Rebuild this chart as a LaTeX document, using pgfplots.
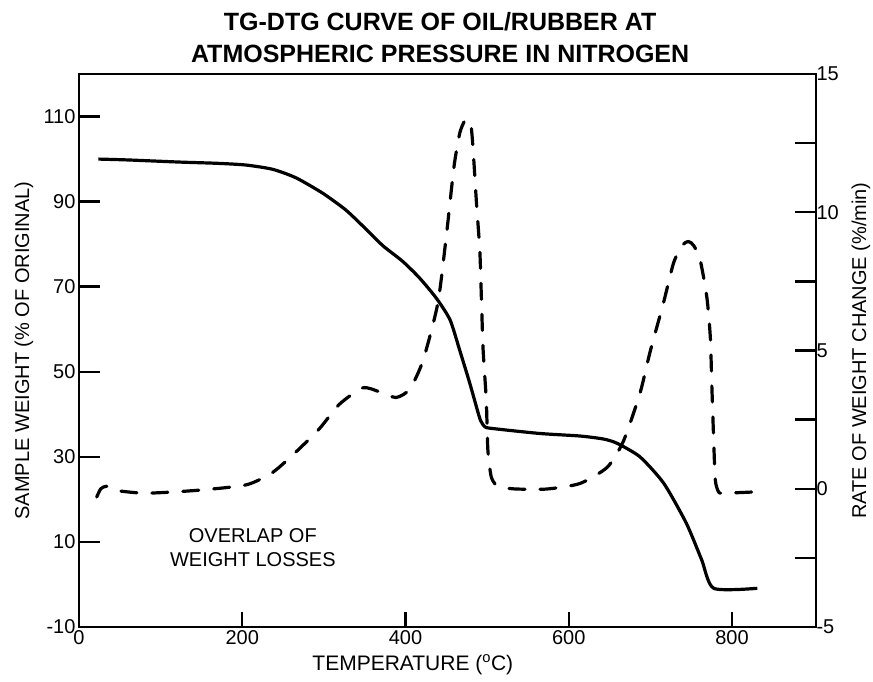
\documentclass[border=0pt]{standalone}
\usepackage{pgfplots}
\pgfplotsset{compat=1.18}
\usepackage{fontspec}
\setmainfont{Liberation Sans}
\begin{document}
\begin{tikzpicture}
\pgfplotsset{
  every axis/.append style={
    scale only axis, width=737pt, height=553pt,
    xmin=0, xmax=903,
    /pgf/number format/assume math mode=true,
    ticklabel style={font=\fontsize{20}{24}\selectfont},
    axis line style={line width=2.4pt},
    tick style={line width=2.4pt, black},
    tick align=inside,
    clip=false,
  }
}
% main axis: box, left ticks, TG curve
\begin{axis}[
  ymin=-10, ymax=120,
  ytick={-10,10,30,50,70,90,110},
  xtick=\empty,
  ytick pos=left,
  major tick length=21pt,
]
\addplot[black, line width=3.2pt, smooth, tension=0.4, line join=round] coordinates {
(23.7,100.0) (59.3,99.8) (122.5,99.3) (170,99.0) (204.6,98.6) (237.2,97.6)
(265.8,95.6) (298.4,92.0) (327.1,88.0) (351.8,83.5) (372.5,79.6) (396.3,76.0)
(417,72.1) (437.8,67.3) (454.6,62.2) (466.4,55.1) (478.8,47.3) (488.2,40.9)
(492.1,38.5) (497.1,37.1) (505,36.7) (564.3,35.5) (613.7,34.9) (642.3,34.2)
(659.1,33.2) (687.3,30.0) (716.4,23.8) (744.1,14.4) (762.9,5.8) (777.7,-0.9)
(831.1,-0.9)
};
\coordinate (LL) at (rel axis cs:0,0);
\coordinate (UR) at (rel axis cs:1,1);
\node[anchor=south, align=center, inner sep=0pt,
      font=\fontsize{25}{32}\bfseries\selectfont]
  at ([yshift=11pt]rel axis cs:0.49,1)
  {TG-DTG CURVE OF OIL/RUBBER AT\\ATMOSPHERIC PRESSURE IN NITROGEN};
\node[anchor=base, inner sep=0pt, font=\fontsize{21}{25}\selectfont]
  at ([yshift=-43pt]axis cs:409,-10) {TEMPERATURE (\textsuperscript{o}C)};
\node[rotate=90, anchor=center, inner sep=0pt, font=\fontsize{20}{24}\selectfont]
  at ([xshift=-55pt]rel axis cs:0,0.5) {SAMPLE WEIGHT (\% OF ORIGINAL)};
\node[anchor=north, align=center, inner sep=0pt, font=\fontsize{20}{24}\selectfont]
  at (axis cs:213,13.3) {OVERLAP OF\\WEIGHT LOSSES};
\end{axis}
% x ticks
\begin{axis}[
  ymin=-10, ymax=120,
  axis y line=none, axis x line*=bottom,
  xtick={0,200,400,600,800},
  major tick length=15pt,
]
\end{axis}
% right axis: DTG curve
\begin{axis}[
  ymin=-5, ymax=15,
  axis x line=none, axis y line*=right,
  ytick={-5,0,5,10,15},
  minor ytick={-2.5,2.5,7.5,12.5},
  major tick length=21pt, minor tick length=21pt,
  yticklabel style={xshift=-3pt},
]
\addplot[black, line width=3.2pt, smooth, tension=0.4, line cap=round, line join=round,
  dash pattern=on 16pt off 15pt] coordinates {
(21.7,-0.3) (26.7,0.0) (33.6,0.09) (45.5,-0.06) (82,-0.16) (143.3,-0.06)
(204.6,0.14) (237.2,0.59) (265.8,1.33) (294.5,2.17) (319.2,3.06) (347.8,3.65)
(368.6,3.5) (388.4,3.3) (405.2,3.6) (421.5,4.64) (439.7,6.72) (450.6,9.29)
(459.5,11.66) (466.4,12.85) (472.4,13.3) (476.7,13.35) (480.3,13.15) (482.9,12.26)
(486.9,10.38) (491.1,8.6) (493.1,6.82) (495.1,5.04) (499,3.21) (501,1.38)
(505,0.44) (510.9,0.14) (519.3,0.04) (536.6,-0.01) (573.2,-0.01) (613.7,0.19)
(647.3,0.78) (667,1.72) (687.3,3.45) (699.6,4.94) (716.1,6.72) (728.3,8.15)
(738.7,8.8) (746.8,8.94) (753,8.8) (760.9,8.3) (769.3,6.92) (773.5,5.48)
(775.4,3.7) (777.5,1.87) (779.6,0.32) (783.6,-0.11) (789.6,-0.16) (831.1,-0.11)
};
\node[rotate=90, anchor=center, inner sep=0pt, font=\fontsize{20}{24}\selectfont]
  at ([xshift=45pt]rel axis cs:1,0.5) {RATE OF WEIGHT CHANGE (\%/min)};
\end{axis}
\pgfresetboundingbox
\path ([shift={(-79pt,-54pt)}]LL) rectangle ([shift={(57pt,74pt)}]UR);
\end{tikzpicture}
\end{document}
